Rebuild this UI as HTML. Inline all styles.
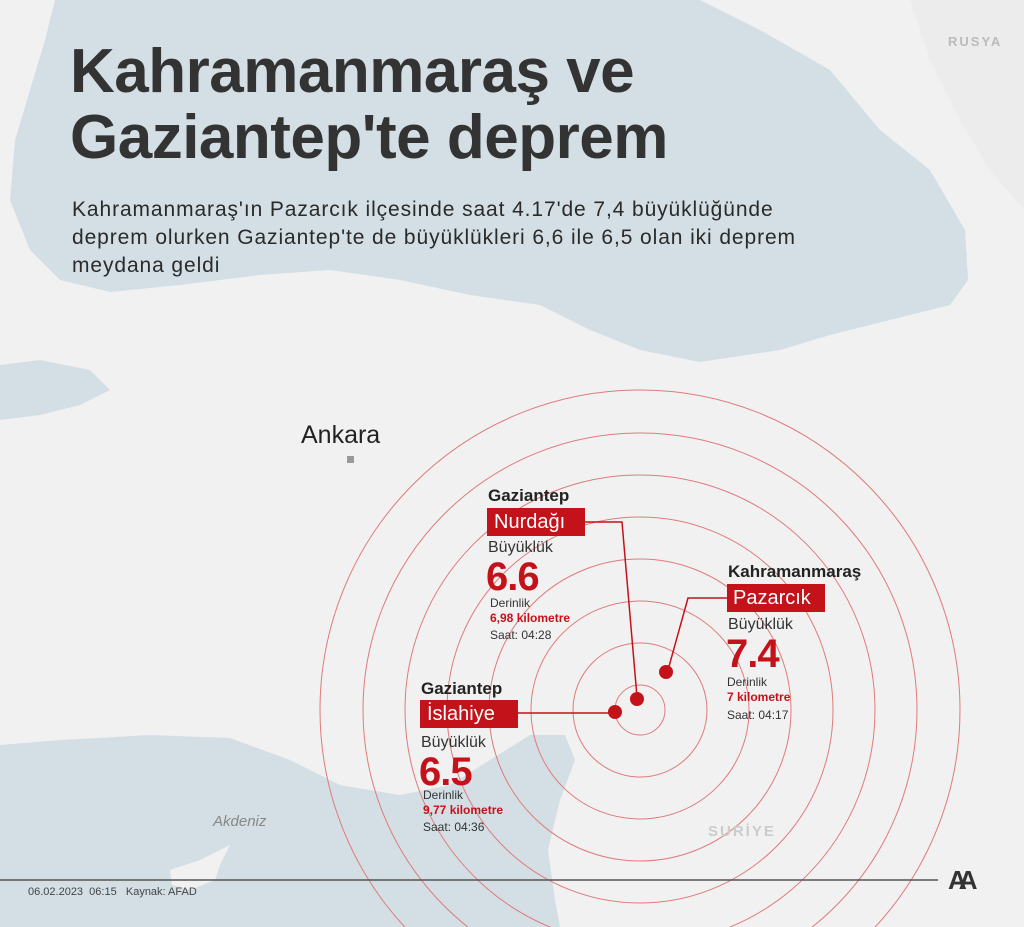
<!DOCTYPE html>
<html style="overflow:hidden"><head><meta charset="utf-8"><style>
html,body{margin:0;width:1024px;height:927px;overflow:hidden}
body{background:#f1f1f1;font-family:"Liberation Sans",sans-serif;position:relative}
.t{position:absolute;white-space:nowrap}
</style></head><body>
<svg width="1024" height="927" viewBox="0 0 1024 927" style="position:absolute;left:0;top:0;display:block;overflow:hidden">
<rect width="1024" height="927" fill="#f1f1f1"/>
<path d="M55,0 L700,0 L760,30 L830,70 L880,130 L930,170 L965,230 L968,280 L950,305 L890,320 L830,335 L780,350 L700,362 L640,350 L590,330 L540,305 L470,295 L400,280 L330,270 L260,275 L180,285 L110,292 L60,280 L30,250 L10,200 L15,140 L30,90 L45,40 Z" fill="#d3dfe5"/>
<path d="M0,365 L40,360 L90,370 L110,390 L80,405 L40,415 L0,420 Z" fill="#d3dfe5"/>
<path d="M0,745 L60,740 L150,735 L230,738 L290,760 L340,785 L400,795 L450,785 L490,760 L530,735 L565,735 L575,760 L560,800 L548,850 L555,900 L560,927 L0,927 Z" fill="#d3dfe5"/>
<path d="M170,870 L200,860 L230,845 L220,865 L215,880 L190,890 L172,885 Z" fill="#f1f1f1"/>
<path d="M910,0 L1024,0 L1024,210 L990,170 L960,120 L930,60 Z" fill="#ececec"/>
<g fill="none" stroke="#e07a7a" stroke-width="1">
<circle cx="640" cy="710" r="25"/><circle cx="640" cy="710" r="67"/><circle cx="640" cy="710" r="109"/><circle cx="640" cy="710" r="151"/><circle cx="640" cy="710" r="193"/><circle cx="640" cy="710" r="235"/><circle cx="640" cy="710" r="277"/><circle cx="640" cy="710" r="320"/>
</g>
<g stroke="#c4121b" stroke-width="1.5" fill="none">
<polyline points="585,522 622,522 637,697"/>
<polyline points="727,598 688,598 668,670"/>
<line x1="502" y1="713" x2="614" y2="713"/>
</g>
<g fill="#c4121b"><circle cx="637" cy="699" r="7"/><circle cx="666" cy="672" r="7"/><circle cx="615" cy="712" r="7"/></g>
<rect x="347" y="456" width="7" height="7" fill="#999"/>
<line x1="0" y1="880" x2="938" y2="880" stroke="#555" stroke-width="1.5"/>
</svg>
<div class="t" style="left:70px;top:39px;font-size:62px;font-weight:bold;color:#333;line-height:66px;letter-spacing:-0.5px">Kahramanmaraş ve<br>Gaziantep'te deprem</div>
<div class="t" style="left:72px;top:196px;font-size:21px;color:#2a2a2a;line-height:28px;letter-spacing:0.9px">Kahramanmaraş'ın Pazarcık ilçesinde saat 4.17'de 7,4 büyüklüğünde<br>deprem olurken Gaziantep'te de büyüklükleri 6,6 ile 6,5 olan iki deprem<br>meydana geldi</div>
<div class="t" style="left:948px;top:34px;font-size:13px;font-weight:bold;color:#bbb;letter-spacing:2px">RUSYA</div>
<div class="t" style="left:301px;top:421px;font-size:25px;color:#222">Ankara</div>
<div class="t" style="left:213px;top:813px;font-size:15px;font-style:italic;color:#888">Akdeniz</div>
<div class="t" style="left:708px;top:823px;font-size:15px;font-weight:bold;color:#ccc;letter-spacing:2px">SURİYE</div>

<div class="t" style="left:488px;top:486px;font-size:17px;font-weight:bold;color:#222">Gaziantep</div>
<div class="t" style="left:487px;top:508px;width:98px;height:28px;background:#c4121b;color:#fff;font-size:20px;line-height:28px;padding-left:7px;box-sizing:border-box">Nurdağı</div>
<div class="t" style="left:488px;top:539px;font-size:16px;color:#333">Büyüklük</div>
<div class="t" style="left:486px;top:555px;font-size:40px;font-weight:bold;color:#c4121b;letter-spacing:-1px">6.6</div>
<div class="t" style="left:490px;top:596px;font-size:12px;color:#333">Derinlik</div>
<div class="t" style="left:490px;top:611px;font-size:12px;font-weight:bold;color:#c4121b">6,98 kilometre</div>
<div class="t" style="left:490px;top:628px;font-size:12px;color:#333">Saat: 04:28</div>

<div class="t" style="left:728px;top:562px;font-size:17px;font-weight:bold;color:#222">Kahramanmaraş</div>
<div class="t" style="left:727px;top:584px;width:98px;height:28px;background:#c4121b;color:#fff;font-size:20px;line-height:28px;padding-left:6px;box-sizing:border-box">Pazarcık</div>
<div class="t" style="left:728px;top:616px;font-size:16px;color:#333">Büyüklük</div>
<div class="t" style="left:726px;top:632px;font-size:40px;font-weight:bold;color:#c4121b;letter-spacing:-1px">7.4</div>
<div class="t" style="left:727px;top:675px;font-size:12px;color:#333">Derinlik</div>
<div class="t" style="left:727px;top:690px;font-size:12px;font-weight:bold;color:#c4121b">7 kilometre</div>
<div class="t" style="left:727px;top:708px;font-size:12px;color:#333">Saat: 04:17</div>

<div class="t" style="left:421px;top:679px;font-size:17px;font-weight:bold;color:#222">Gaziantep</div>
<div class="t" style="left:420px;top:700px;width:98px;height:28px;background:#c4121b;color:#fff;font-size:20px;line-height:28px;padding-left:7px;box-sizing:border-box">İslahiye</div>
<div class="t" style="left:421px;top:734px;font-size:16px;color:#333">Büyüklük</div>
<div class="t" style="left:419px;top:750px;font-size:40px;font-weight:bold;color:#c4121b;letter-spacing:-1px">6.5</div>
<div class="t" style="left:423px;top:788px;font-size:12px;color:#333">Derinlik</div>
<div class="t" style="left:423px;top:803px;font-size:12px;font-weight:bold;color:#c4121b">9,77 kilometre</div>
<div class="t" style="left:423px;top:820px;font-size:12px;color:#333">Saat: 04:36</div>

<div class="t" style="left:28px;top:886px;font-size:11px;color:#444">06.02.2023&nbsp; 06:15 &nbsp; Kaynak: AFAD</div>
<div class="t" style="left:948px;top:865px;font-size:26px;font-weight:bold;color:#333;letter-spacing:-8px">AA</div>
</body></html>
